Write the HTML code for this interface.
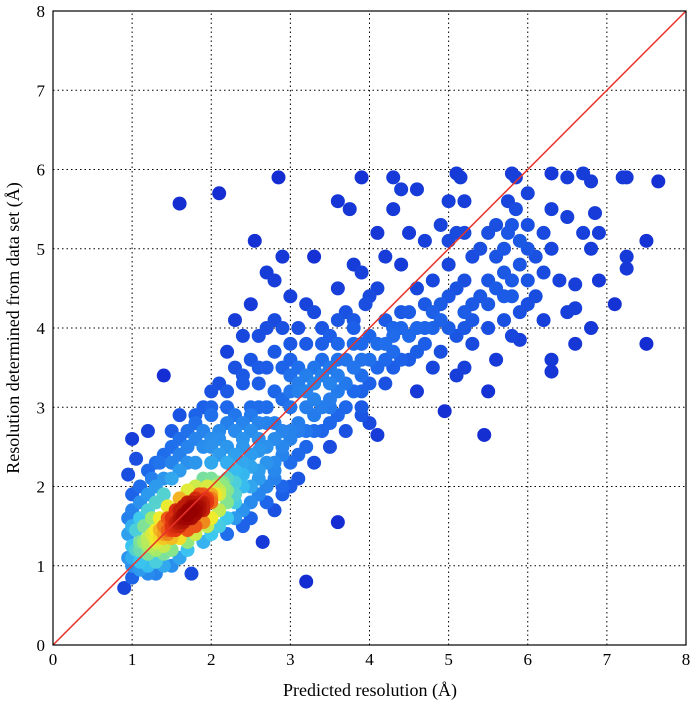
<!DOCTYPE html>
<html><head><meta charset="utf-8">
<style>
body{margin:0;background:#fff;}
svg{display:block;font-family:"Liberation Serif",serif;}
</style></head>
<body>
<svg id="chart" width="692" height="701" viewBox="0 0 692 701" xmlns="http://www.w3.org/2000/svg">
<rect width="692" height="701" fill="#fff"/>
<g id="grid"></g>
<g id="points"></g>
<line id="diag" stroke="#e8322a" stroke-width="1.5"/>
<rect id="frame" fill="none" stroke="#000" stroke-width="1.2"/>
<g id="ticks"></g>
<text x="370" y="696" text-anchor="middle" font-size="18">Predicted resolution (Å)</text>
<text transform="translate(19,328) rotate(-90)" text-anchor="middle" font-size="18">Resolution determined from data set (Å)</text>
</svg>
<script>
const xTicks=[0,1,2,3,4,5,6,7,8];
const yTicks=[0,1,2,3,4,5,6,7,8];
const xs=[1.6,2.1,2.55,2.85,3.6,3.75,3.9,4.3,4.4,4.6,5.1,5.15,5.2,5.8,5.85,6.3,6.5,6.7,6.8,7.2,7.25,7.65,7.5,7.25,7.25,7.1,7.5,6.8,6.6,6.6,6.3,6.3,5.45,4.95,5.5,3.6,3.2,2.65,1.75,0.9,1.4,1.2,1.0,0.95,1.05,
4.8,4.9,5.0,5.0,5.1,5.1,5.2,5.2,5.3,5.3,5.5,5.6,5.6,5.7,5.7,5.75,5.8,5.8,5.85,5.9,5.9,6.0,6.0,6.1,6.2,6.3,6.3,6.4,6.5,6.6,6.7,6.8,6.9,6.9,6.85,6.5,6.0,6.2,5.75,5.4,4.7,4.5,4.6,4.4,4.3,4.2,4.1,4.0,4.7,4.8,4.5,4.3,4.1,3.9,3.8,4.5,4.9,5.1,5.3,5.5,4.4,4.2,4.0,4.1,3.9,4.6,4.8,5.2,5.0,4.9,
2.5,2.6,2.7,2.8,2.9,3.0,3.1,3.2,3.3,3.4,3.5,3.6,3.7,3.8,3.9,3.95,2.4,2.3,2.2,2.1,2.0,2.6,2.7,2.9,3.1,3.2,3.4,3.5,3.6,3.7,3.8,3.5,3.3,3.2,3.0,2.9,2.8,3.1,3.4,2.5,2.8,2.9,3.3,3.6,3.0,2.7,2.3,2.4,1.9,1.8,1.7,1.6,1.5,2.0,2.2,2.5,2.7,2.8,3.0,3.2,2.6,2.9,3.1,3.3,2.4,2.2,3.0,2.6,
1.0,1.0,1.05,1.1,1.1,1.15,1.2,1.2,1.25,1.3,1.3,1.35,1.4,1.4,1.45,1.5,1.5,1.55,1.55,1.6,1.6,1.6,1.65,1.65,1.7,1.7,1.7,1.75,1.75,1.8,1.8,1.8,1.85,1.85,1.9,1.9,1.9,1.95,2.0,2.0,2.05,2.1,2.1,2.15,2.2,2.2,2.3,2.3,2.4,2.4,2.5,2.5,2.6,2.7,2.8,1.3,1.45,1.55,1.65,1.75,1.85,1.95,2.0,1.5,1.4,1.2,1.1,1.0,0.95,1.35,1.45,1.6,1.7,1.8,1.9,2.0,2.1,2.2,2.3,2.4,2.5,2.6,2.7,2.4,2.3,2.2,2.1,2.0,1.9,1.8,1.7,1.6,1.4,1.3,1.2,1.1,1.5,1.25,1.15,1.05,0.95,1.3,1.4,1.2,1.1,1.0,1.5,1.6,1.35,1.25,2.6,2.5,2.8,2.9,3.0,3.1,3.3,3.5,3.6,3.9,4.0,4.2,4.3,4.4,4.6,4.7,2.3,2.4,2.9,1.8,1.5,1.3,2.1,1.95,1.7,
1.62,1.72,1.82,1.68,1.78,1.58,1.88,1.74,1.66,1.84,1.7,1.8,1.76,1.64,1.86,1.92,1.52,
1.0,1.0,0.95,1.1,1.1,1.2,1.2,1.3,1.3,1.4,1.4,1.5,1.5,1.6,1.7,1.7,1.8,1.8,1.9,1.9,2.0,2.0,2.1,2.1,2.2,2.3,2.3,2.4,2.5,2.6,2.7,2.8,2.9,3.0,3.1,3.2,3.3,3.4,3.5,3.6,3.7,3.8,3.9,4.0,4.1,4.2,4.3,4.4,2.2,2.3,2.5,2.6,2.7,2.8,2.9,3.0,3.1,3.2,3.3,3.4,3.5,3.6,3.7,3.8,3.9,4.0,4.1,4.2,4.3,2.0,1.9,1.7,1.6,1.4,1.2,1.0,2.2,2.4,2.5,2.7,2.8,3.0,3.1,3.3,3.5,3.7,3.9,2.6,2.8,3.0,3.2,3.4,3.6,3.8,2.2,2.4,2.0,1.8,1.6,4.5,4.6,4.7,4.8,4.9,5.0,5.1,5.2,5.3,5.4,5.5,5.6,5.7,5.8,5.9,6.0,6.1,6.2,5.6,5.7,5.8,5.9,6.0,5.5,5.2,5.0,
1.5,1.6,1.7,1.8,1.9,2.0,1.55,1.65,1.75,1.85,1.95,1.45,1.4,1.35,1.3,2.05,2.1,2.15,1.25,1.2];
const ys=[5.57,5.7,5.1,5.9,5.6,5.5,5.9,5.9,5.75,5.75,5.95,5.9,5.6,5.95,5.9,5.95,5.9,5.95,5.85,5.9,5.9,5.85,5.1,4.9,4.75,4.3,3.8,4.0,4.25,3.8,3.45,3.6,2.65,2.95,3.2,1.55,0.8,1.3,0.9,0.72,3.4,2.7,2.6,2.15,2.35,
4.6,4.3,4.0,4.8,5.2,4.5,3.5,4.2,4.9,3.8,4.6,3.6,5.3,4.1,4.7,5.2,3.9,4.4,5.5,4.8,3.85,4.6,5.3,4.9,4.1,5.5,5.0,4.6,5.4,4.55,5.2,5.0,5.2,4.6,5.45,4.2,5.7,5.2,5.6,5.0,5.1,5.2,4.5,4.8,5.5,4.9,5.2,4.4,3.8,3.5,3.9,4.0,4.5,4.7,4.8,4.2,3.7,3.4,4.3,4.0,3.6,3.3,2.8,2.65,3.0,3.2,4.0,4.6,5.6,5.3,
3.6,3.9,4.0,4.1,4.0,3.8,4.0,4.3,4.2,4.0,3.9,4.1,4.2,4.0,3.8,4.3,3.3,3.5,3.7,3.3,3.2,3.3,3.5,3.5,3.5,3.2,3.4,3.3,3.6,3.0,3.5,2.8,2.7,2.5,2.3,2.0,2.1,2.8,3.0,4.3,4.6,4.9,4.9,4.5,4.4,4.7,4.1,3.9,3.0,2.9,2.7,2.9,2.7,2.9,3.0,3.0,3.0,2.8,3.0,3.0,2.6,2.7,3.2,3.5,2.5,2.3,3.4,2.8,
1.0,1.1,1.2,1.05,1.2,1.3,1.15,1.25,1.4,1.3,1.2,1.45,1.35,1.5,1.4,1.5,1.6,1.45,1.55,1.6,1.7,1.5,1.65,1.75,1.6,1.7,1.8,1.7,1.8,1.75,1.65,1.85,1.8,1.7,1.8,1.9,1.7,1.85,1.9,1.8,2.0,1.9,2.05,2.0,2.1,1.95,2.2,2.05,2.3,2.15,2.4,2.25,2.45,2.5,2.6,1.45,1.6,1.7,1.55,1.6,1.9,2.0,2.1,1.35,1.25,1.35,1.3,1.25,1.1,1.6,1.75,1.85,1.95,2.0,2.1,2.3,2.4,2.5,2.4,2.6,2.7,2.2,2.3,2.0,1.9,1.8,1.7,1.6,1.55,1.5,1.45,1.35,1.15,1.05,1.0,0.95,1.2,1.6,1.5,1.45,1.4,1.8,1.9,1.7,1.8,1.9,2.1,2.2,2.3,2.1,1.9,1.8,2.3,2.4,2.6,2.7,3.1,3.0,3.2,3.4,3.6,3.8,3.5,4.2,4.0,4.3,1.6,1.7,1.9,1.4,1.0,0.9,1.5,1.5,1.3,
1.58,1.66,1.74,1.6,1.72,1.54,1.8,1.68,1.62,1.76,1.64,1.7,1.72,1.6,1.78,1.84,1.48,
1.5,1.7,1.6,1.6,2.0,1.9,2.2,2.0,2.3,2.1,2.4,2.3,2.5,2.4,2.3,2.5,2.6,2.3,2.5,2.7,2.6,2.5,2.7,2.6,2.8,2.7,2.9,2.8,2.9,3.0,2.8,3.2,3.1,3.2,3.3,3.4,3.3,3.6,3.5,3.4,3.6,3.8,3.6,3.9,3.8,4.1,3.9,4.0,1.6,1.8,2.0,2.1,2.0,2.2,2.5,2.7,2.4,2.7,2.9,2.7,3.1,2.9,3.3,3.2,3.2,3.3,3.5,3.6,3.7,1.4,1.3,1.2,1.1,1.0,0.9,0.85,1.4,1.5,1.6,1.8,1.7,2.0,2.1,2.3,2.5,2.7,2.9,3.5,3.7,3.6,3.8,3.8,3.8,4.1,3.2,3.4,3.0,2.8,2.6,3.6,3.7,4.0,4.2,4.1,4.4,3.9,4.0,4.1,4.4,4.3,4.5,4.4,4.6,4.2,4.3,4.4,4.7,4.9,5.0,5.3,5.1,5.0,5.2,5.2,5.1,
1.45,1.55,1.65,1.7,1.75,1.85,1.5,1.6,1.75,1.75,1.8,1.45,1.4,1.35,1.35,1.9,1.95,2.05,1.25,1.3];
const X0=53,X1=686,Y0=645,Y1=11;
const sx=v=>X0+(X1-X0)*v/8, sy=v=>Y0-(Y0-Y1)*v/8;
const NS="http://www.w3.org/2000/svg";
const grid=document.getElementById('grid'),ticks=document.getElementById('ticks'),pts=document.getElementById('points');
function mk(t,a,p){const e=document.createElementNS(NS,t);for(const k in a)e.setAttribute(k,a[k]);p.appendChild(e);return e;}
xTicks.forEach(t=>{
 const g=mk('line',{x1:sx(t),x2:sx(t),y1:Y0,y2:Y1,stroke:'#000','stroke-dasharray':'1.5,3','stroke-width':1},grid);
 
 
 const l=mk('text',{x:sx(t),y:Y0+20,'text-anchor':'middle','font-size':17},ticks);
 l.textContent=t;
 
 
});
yTicks.forEach(t=>{
 const g=mk('line',{x1:X0,x2:X1,y1:sy(t),y2:sy(t),stroke:'#000','stroke-dasharray':'1.5,3','stroke-width':1},grid);
 
 
 const l=mk('text',{x:X0-8,y:sy(t)+6,'text-anchor':'end','font-size':17},ticks);
 l.textContent=t;
 
 
});
const d=document.getElementById('diag');
d.setAttribute('x1',sx(0));d.setAttribute('y1',sy(0));d.setAttribute('x2',sx(8));d.setAttribute('y2',sy(8));
const f=document.getElementById('frame');
f.setAttribute('x',X0);f.setAttribute('y',Y1);f.setAttribute('width',X1-X0);f.setAttribute('height',Y0-Y1);
const n=Math.min(xs.length,ys.length);const dens=[];
for(let i=0;i<n;i++){let c=0;for(let j=0;j<n;j++){const dx=xs[i]-xs[j],dy=ys[i]-ys[j];c+=Math.exp(-(dx*dx+dy*dy)/0.09);}dens.push(c);}
const mx=Math.max(...dens),mn=Math.min(...dens);
const stops=[[0,[20,45,210]],[0.22,[30,105,235]],[0.4,[60,200,240]],[0.55,[150,235,120]],[0.68,[245,235,40]],[0.82,[235,60,20]],[1,[150,0,0]]];
function cmap(t){t=Math.max(0,Math.min(1,t));for(let k=1;k<stops.length;k++){if(t<=stops[k][0]){const a=stops[k-1],b=stops[k];const u=(t-a[0])/(b[0]-a[0]);return 'rgb('+a[1].map((v,q)=>Math.round(v+(b[1][q]-v)*u)).join(',')+')';}}return 'rgb(150,0,0)';}
const order=[...Array(n).keys()].sort((a,b)=>dens[a]-dens[b]);
order.forEach(i=>{
 const t=Math.pow((dens[i]-mn)/(mx-mn),0.85);
 const c=mk('circle',{cx:sx(xs[i]),cy:sy(ys[i]),r:7,fill:cmap(t)},pts);
 
 
});
</script>
</body></html>
